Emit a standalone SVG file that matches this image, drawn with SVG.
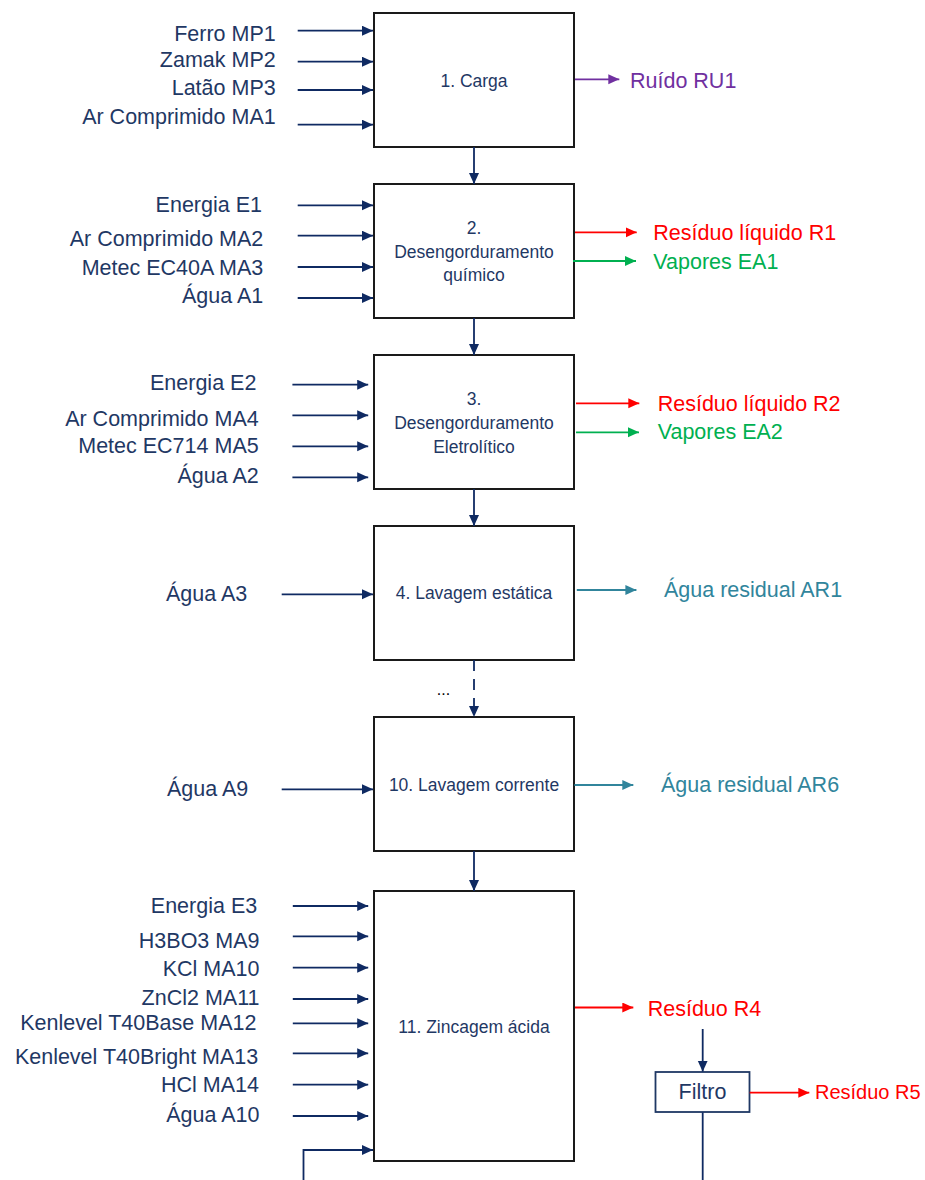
<svg xmlns="http://www.w3.org/2000/svg" width="925" height="1180" viewBox="0 0 925 1180">
  <style>
    .box { fill: #ffffff; stroke: #1a1a1a; stroke-width: 2; }
    .lbl { font-family: "Liberation Sans", Arial, sans-serif; font-size: 21.5px; fill: #1F3864; }
    .in { text-anchor: end; }
    .step { font-family: "Liberation Sans", Arial, sans-serif; font-size: 17.5px; fill: #1F3864; text-anchor: middle; }
    .navy { stroke: #0F2A62; stroke-width: 1.8; fill: none; marker-end: url(#ah-navy); }
    .red { stroke: #FF0000; stroke-width: 1.8; fill: none; marker-end: url(#ah-red); }
    .green { stroke: #00B050; stroke-width: 1.8; fill: none; marker-end: url(#ah-green); }
    .purple { stroke: #7030A0; stroke-width: 1.8; fill: none; marker-end: url(#ah-purple); }
    .teal { stroke: #31859C; stroke-width: 1.8; fill: none; marker-end: url(#ah-teal); }
    .t-red { fill: #FF0000; }
    .t-green { fill: #00B050; }
    .t-purple { fill: #7030A0; }
    .t-teal { fill: #31859C; }
  </style>
  <defs>
    <marker id="ah-navy" markerUnits="userSpaceOnUse" markerWidth="12" markerHeight="11" refX="11" refY="5" orient="auto"><path d="M0,0 L11,5 L0,10 z" fill="#0F2A62"/></marker>
    <marker id="ah-red" markerUnits="userSpaceOnUse" markerWidth="12" markerHeight="11" refX="11" refY="5" orient="auto"><path d="M0,0 L11,5 L0,10 z" fill="#FF0000"/></marker>
    <marker id="ah-green" markerUnits="userSpaceOnUse" markerWidth="12" markerHeight="11" refX="11" refY="5" orient="auto"><path d="M0,0 L11,5 L0,10 z" fill="#00B050"/></marker>
    <marker id="ah-purple" markerUnits="userSpaceOnUse" markerWidth="12" markerHeight="11" refX="11" refY="5" orient="auto"><path d="M0,0 L11,5 L0,10 z" fill="#7030A0"/></marker>
    <marker id="ah-teal" markerUnits="userSpaceOnUse" markerWidth="12" markerHeight="11" refX="11" refY="5" orient="auto"><path d="M0,0 L11,5 L0,10 z" fill="#31859C"/></marker>
  </defs>
  <rect width="925" height="1180" fill="#ffffff"/>

  <!-- process steps -->
  <g id="step1">
    <rect class="box" x="374" y="13" width="200" height="134"/>
    <text class="step" x="474" y="86.5">1. Carga</text>
  </g>
  <g id="step2">
    <rect class="box" x="374" y="184" width="200" height="134"/>
    <text class="step" x="474" y="234">2.</text>
    <text class="step" x="474" y="257.5">Desengorduramento</text>
    <text class="step" x="474" y="281">químico</text>
  </g>
  <g id="step3">
    <rect class="box" x="374" y="355" width="200" height="134"/>
    <text class="step" x="474" y="405">3.</text>
    <text class="step" x="474" y="429">Desengorduramento</text>
    <text class="step" x="474" y="452.5">Eletrolítico</text>
  </g>
  <g id="step4">
    <rect class="box" x="374" y="526" width="200" height="134"/>
    <text class="step" x="474" y="599">4. Lavagem estática</text>
  </g>
  <g id="step10">
    <rect class="box" x="374" y="717" width="200" height="134"/>
    <text class="step" x="474" y="791">10. Lavagem corrente</text>
  </g>
  <g id="step11">
    <rect class="box" x="374" y="891" width="200" height="270"/>
    <text class="step" x="474" y="1032.5">11. Zincagem ácida</text>
  </g>
  <g id="filtro">
    <rect x="655.5" y="1072" width="94" height="40" fill="#ffffff" stroke="#1F3864" stroke-width="1.8"/>
    <text class="lbl" x="702.5" y="1099.3" text-anchor="middle">Filtro</text>
  </g>

  <!-- input labels -->
  <g id="inputs" class="lbl in">
    <text x="275.7" y="40.7">Ferro MP1</text>
    <text x="275.7" y="66.7">Zamak MP2</text>
    <text x="275.7" y="95">Latão MP3</text>
    <text x="275.7" y="124">Ar Comprimido MA1</text>

    <text x="262" y="211.7">Energia E1</text>
    <text x="263.3" y="245.7">Ar Comprimido MA2</text>
    <text x="263.3" y="275">Metec EC40A MA3</text>
    <text x="263.3" y="303.3">Água A1</text>

    <text x="256.4" y="390">Energia E2</text>
    <text x="258.7" y="426">Ar Comprimido MA4</text>
    <text x="258.7" y="453.3">Metec EC714 MA5</text>
    <text x="258.7" y="482.7">Água A2</text>

    <text x="247.3" y="601">Água A3</text>
    <text x="248.3" y="796">Água A9</text>

    <text x="257.2" y="912.7">Energia E3</text>
    <text x="259.5" y="947.7">H3BO3 MA9</text>
    <text x="259.5" y="976">KCl MA10</text>
    <text x="259.5" y="1004.7">ZnCl2 MA11</text>
    <text x="256.4" y="1030">Kenlevel T40Base MA12</text>
    <text x="258.3" y="1064.3">Kenlevel T40Bright MA13</text>
    <text x="259" y="1092.3">HCl MA14</text>
    <text x="259.5" y="1121.7">Água A10</text>
  </g>

  <!-- output labels -->
  <g id="outputs" class="lbl">
    <text class="t-purple" x="630" y="88.3">Ruído RU1</text>
    <text class="t-red" x="653.3" y="240">Resíduo líquido R1</text>
    <text class="t-green" x="653.3" y="269.3">Vapores EA1</text>
    <text class="t-red" x="657.7" y="411">Resíduo líquido R2</text>
    <text class="t-green" x="657.7" y="439.3">Vapores EA2</text>
    <text class="t-teal" x="664" y="596.7">Água residual AR1</text>
    <text class="t-teal" x="661" y="791.7">Água residual AR6</text>
    <text class="t-red" x="647.7" y="1016">Resíduo R4</text>
    <text class="t-red" x="815" y="1099.3" font-size="20">Resíduo R5</text>
  </g>
  <text x="443.5" y="695" font-family="Liberation Sans, Arial, sans-serif" font-size="16" fill="#000000" text-anchor="middle">...</text>

  <!-- connectors -->
  <g id="connectors">
    <!-- main flow -->
    <line class="navy" x1="474" y1="147" x2="474" y2="184"/>
    <line class="navy" x1="474" y1="318" x2="474" y2="355"/>
    <line class="navy" x1="474" y1="489" x2="474" y2="526"/>
    <line class="navy" x1="474" y1="660" x2="474" y2="717" stroke-dasharray="11,8"/>
    <line class="navy" x1="474" y1="851" x2="474" y2="891"/>

    <!-- step 1 inputs -->
    <line class="navy" x1="297.7" y1="30.7" x2="373" y2="30.7"/>
    <line class="navy" x1="297.7" y1="61.7" x2="373" y2="61.7"/>
    <line class="navy" x1="297.7" y1="90" x2="373" y2="90"/>
    <line class="navy" x1="297.7" y1="124.7" x2="373" y2="124.7"/>

    <!-- step 2 inputs -->
    <line class="navy" x1="297.7" y1="205.3" x2="373" y2="205.3"/>
    <line class="navy" x1="297.7" y1="235.7" x2="373" y2="235.7"/>
    <line class="navy" x1="297.7" y1="267" x2="373" y2="267"/>
    <line class="navy" x1="297.7" y1="298" x2="373" y2="298"/>

    <!-- step 3 inputs -->
    <line class="navy" x1="292.4" y1="384.7" x2="368.2" y2="384.7"/>
    <line class="navy" x1="292.4" y1="415.3" x2="368.2" y2="415.3"/>
    <line class="navy" x1="292.4" y1="446.3" x2="368.2" y2="446.3"/>
    <line class="navy" x1="292.4" y1="477.3" x2="368.2" y2="477.3"/>

    <!-- washing inputs -->
    <line class="navy" x1="281.7" y1="594.3" x2="373" y2="594.3"/>
    <line class="navy" x1="281.7" y1="789.3" x2="373" y2="789.3"/>

    <!-- step 11 inputs -->
    <line class="navy" x1="292.8" y1="906" x2="368.2" y2="906"/>
    <line class="navy" x1="292.8" y1="936.3" x2="368.2" y2="936.3"/>
    <line class="navy" x1="292.8" y1="967.7" x2="368.2" y2="967.7"/>
    <line class="navy" x1="292.8" y1="999" x2="368.2" y2="999"/>
    <line class="navy" x1="292.8" y1="1023.3" x2="368.2" y2="1023.3"/>
    <line class="navy" x1="292.8" y1="1053.3" x2="368.2" y2="1053.3"/>
    <line class="navy" x1="292.8" y1="1084.7" x2="368.2" y2="1084.7"/>
    <line class="navy" x1="292.8" y1="1116" x2="368.2" y2="1116"/>
    <polyline class="navy" points="303.5,1180 303.5,1150 373,1150"/>

    <!-- outputs -->
    <line class="purple" x1="575" y1="79.3" x2="619.3" y2="79.3"/>
    <line class="red" x1="575" y1="232.3" x2="636.7" y2="232.3"/>
    <line class="green" x1="573" y1="261" x2="636" y2="261"/>
    <line class="red" x1="576" y1="403.3" x2="639.3" y2="403.3"/>
    <line class="green" x1="576" y1="432.3" x2="639" y2="432.3"/>
    <line class="teal" x1="576.8" y1="590" x2="636.4" y2="590"/>
    <line class="teal" x1="574.4" y1="785" x2="633.3" y2="785"/>
    <line class="red" x1="575" y1="1007.5" x2="633.3" y2="1007.5"/>

    <!-- filter branch -->
    <line class="navy" x1="702.7" y1="1029" x2="702.7" y2="1071.7"/>
    <line class="red" x1="749.7" y1="1092.7" x2="809.3" y2="1092.7"/>
    <line x1="702.7" y1="1112.3" x2="702.7" y2="1180" stroke="#0F2A62" stroke-width="1.8"/>
  </g>
</svg>
